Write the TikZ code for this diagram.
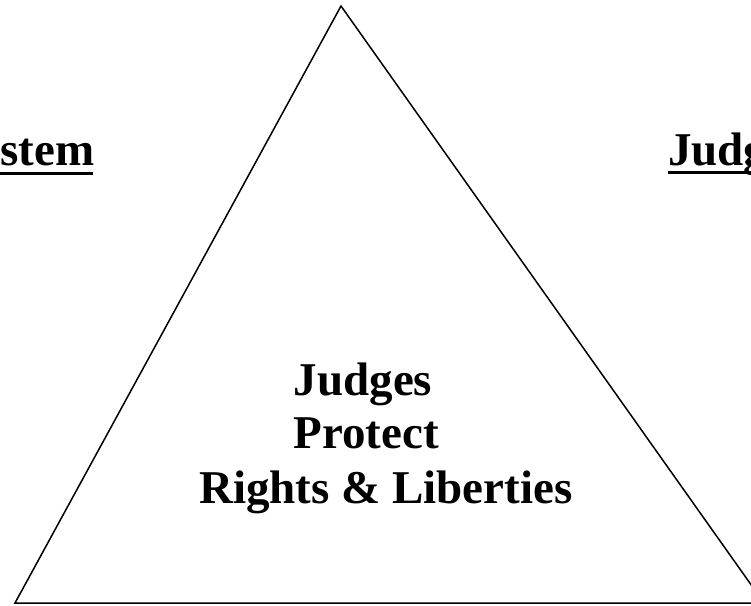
\documentclass[tikz,border=0pt]{standalone}
\usepackage{fontspec}
\setmainfont{Liberation Serif}
\tikzset{
  lbl/.style={font=\fontsize{47}{54}\selectfont\bfseries, inner sep=0pt, anchor=base},
  edge/.style={draw=black, line width=1.5pt, line join=miter}
}
\begin{document}
\begin{tikzpicture}[x=1pt,y=-1pt]
\useasboundingbox (0,0) rectangle (751,605);
\clip (0,0) rectangle (751,605);
\coordinate (apex) at (341,6);
\coordinate (bl) at (15,603);
\coordinate (br) at (764,603);
\draw[edge] (apex) -- (bl) -- (br) -- cycle;
\node[lbl, anchor=base west] (left) at (0,165) {stem};
\draw[line width=3pt] (left.base west) ++(0,8) -- ++(93,0);
\node[lbl, anchor=base west] (right) at (668,165) {Judg};
\draw[line width=3pt] (right.base west) ++(0,7.5) -- ++(90,0);
\node[lbl] (l1) at (363,395) {Judges};
\node[lbl] (l2) at (366,448) {Protect};
\node[lbl, anchor=base west] (l3) at (199,503) {Rights \& Liberties};
\end{tikzpicture}
\end{document}
